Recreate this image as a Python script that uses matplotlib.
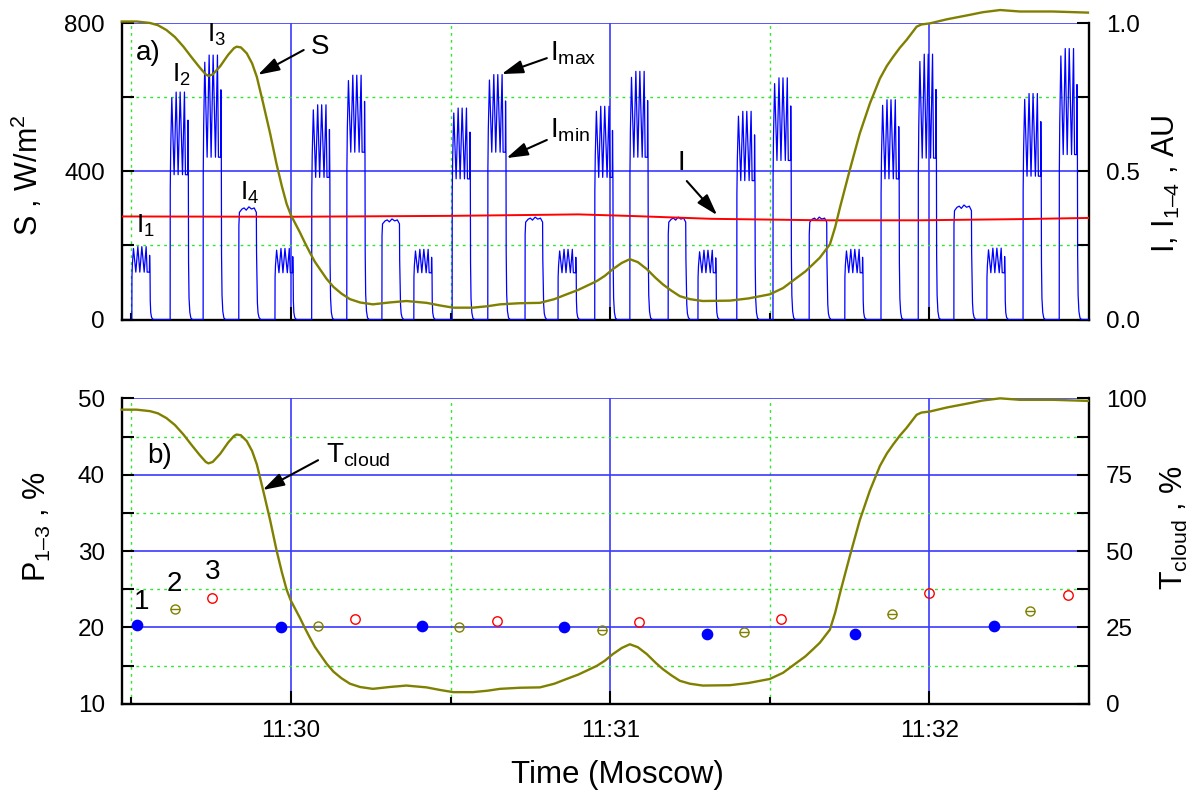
import numpy as np
import matplotlib
matplotlib.use('Agg')
import matplotlib.pyplot as plt
from matplotlib.ticker import FixedLocator, FixedFormatter

plt.rcParams['font.family'] = ['Liberation Sans', 'DejaVu Sans']
plt.rcParams['mathtext.fontset'] = 'custom'
plt.rcParams['mathtext.rm'] = 'Liberation Sans'
plt.rcParams['mathtext.it'] = 'Liberation Sans:italic'
plt.rcParams['mathtext.default'] = 'regular'

# time axis: seconds after 11:29:00 (Moscow)
# solar irradiance S, W/m^2
s_t = [28.2, 31.0, 33.5, 35.0, 36.6, 38.2, 39.8, 41.4, 42.9, 44.0, 44.5, 45.3, 46.7,
       48.2, 49.3, 49.8, 50.6, 51.7, 52.7, 53.6, 54.8, 56.1, 57.3, 58.3, 59.2, 60.0,
       61.7, 62.6, 63.6, 64.5, 65.5, 66.7, 68.0, 69.5, 71.1, 73.0, 75.4, 78.5, 81.7,
       85.5, 88.0, 90.5, 94.2, 97.0, 99.3, 103.0, 106.8, 109.5, 111.8, 114.0, 116.2,
       117.5, 119.0, 120.5, 122.2, 123.7, 125.2, 126.9, 128.5, 129.9, 131.5, 133.1,
       135.0, 137.4, 142.5, 146.0, 150.0, 152.5, 155.1, 156.7, 158.1, 159.4, 161.3,
       162.3, 163.2, 165.0, 166.9, 168.8, 170.7, 172.0, 173.2, 174.5, 175.7, 177.6,
       178.5, 180.1, 183.3, 187.6, 190.0, 193.3, 197.0, 203.2, 209.8]
s_val = [805, 805, 801, 795, 782, 763, 737, 707, 680, 662, 658, 662, 684,
         715, 733, 737, 735, 719, 692, 655, 583, 502, 420, 360, 312, 282,
         235, 208, 180, 156, 135, 110, 88, 70, 55, 46, 41, 46, 50,
         45, 38, 32, 32, 36, 41, 44, 45, 55, 68, 80, 95,
         104, 118, 136, 153, 163, 155, 136, 113, 95, 78, 63,
         55, 50, 51, 57, 68, 85, 113, 130, 149, 167, 203,
         250, 303, 402, 502, 583, 651, 685, 710, 735, 755, 791,
         797, 800, 811, 823, 830, 836, 832, 832, 829]

# lidar pulses I1..I4: start time, upper (I_max) and lower (I_min) level, AU
pulse_kind = ['I1', 'I2', 'I3', 'I4'] * 6 + ['I1', 'I2', 'I3']
pulse_t0 = [30.1, 37.3, 43.5, 50.2, 57.0, 63.9, 70.5, 77.1, 83.1, 90.3, 97.0, 104.0,
            110.2, 117.1, 123.7, 130.9, 136.5, 143.8, 150.6, 157.4, 164.1, 170.9,
            177.9, 184.6, 190.8, 197.6, 204.4]
pulse_hi = [0.246, 0.768, 0.893, 0.373, 0.240, 0.725, 0.825, 0.333, 0.237, 0.714,
            0.827, 0.339, 0.237, 0.720, 0.838, 0.339, 0.234, 0.703, 0.816, 0.339,
            0.237, 0.742, 0.896, 0.379, 0.241, 0.763, 0.915]
pulse_lo = [0.160, 0.489, 0.548, 0.373, 0.158, 0.480, 0.565, 0.333, 0.158, 0.475,
            0.565, 0.339, 0.158, 0.480, 0.548, 0.339, 0.158, 0.469, 0.537, 0.339,
            0.158, 0.475, 0.545, 0.379, 0.158, 0.484, 0.557]

# reference signal I, AU
i_t = [28.2, 60, 90, 105, 114, 125, 139, 160, 178, 197, 210]
i_val = [0.348, 0.347, 0.350, 0.353, 0.355, 0.349, 0.340, 0.335, 0.335, 0.339, 0.343]

# polarization P1..P3, %
p1_t = [31.1, 58.1, 84.7, 111.4, 138.2, 166.1, 192.1]
p1 = [20.35, 20.0, 20.13, 20.0, 19.13, 19.13, 20.17]
p2_t = [38.2, 65.1, 91.6, 118.4, 145.2, 173.0, 199.0]
p2 = [22.4, 20.2, 20.0, 19.65, 19.35, 21.8, 22.2]
p3_t = [45.1, 72.0, 98.7, 125.4, 152.2, 180.0, 206.0]
p3 = [23.8, 21.1, 20.9, 20.65, 21.1, 24.5, 24.3]

xtick_t = [60, 120, 180]
xtick_lab = ['11:30', '11:31', '11:32']

# shape of one modulated pulse (comb) and of the flat I4 pulse
comb_dt = [0.00, 0.02, 0.10, 0.31, 0.75, 1.13, 1.50, 1.88, 2.32, 2.69, 2.88, 3.30,
           3.34, 3.42, 3.46, 3.55, 3.70, 3.90, 4.20]
comb_env = [0, 0.9, 1, 1, 1, 1, 1, 1, 1, 1, 1, 1, 1, 1, 0.4, 0.15, 0.05, 0.01, 0]
comb_osc = [0, 0, 0.3, 0.93, 0, 1, 0, 1, 0, 1, 0, 0, 0.66, 0, 0, 0, 0, 0, 0]
flat_dt = [0.00, 0.02, 0.12, 0.6, 1.0, 1.4, 1.9, 2.4, 2.9, 3.2, 3.30, 3.34, 3.42,
           3.50, 3.62, 3.80, 4.10]
flat_f = [0, 0.85, 0.97, 1.0, 1.01, 0.99, 1.02, 1.0, 1.01, 0.98, 0.97, 0.6, 0.35,
          0.15, 0.06, 0.02, 0]

tt = [28.2]
vv = [0.0]
for kind, t0, hi, lo in zip(pulse_kind, pulse_t0, pulse_hi, pulse_lo):
    if kind == 'I4':
        tt += [t0 + d for d in flat_dt]
        vv += [hi * f for f in flat_f]
    else:
        tt += [t0 + d for d in comb_dt]
        vv += [e * (lo + o * (hi - lo)) for e, o in zip(comb_env, comb_osc)]
tt.append(210.0)
vv.append(0.0)

t_cloud = np.array(s_val) / max(s_val) * 100

c_grid = '#3a3aff'
c_minor = '#2ee82e'
c_olive = '#808000'

fig = plt.figure(figsize=(12.04, 7.97), dpi=100)
axI = fig.add_axes([0.1011, 0.5991, 0.8034, 0.3716])
axS = axI.twinx()
bx = fig.add_axes([0.1011, 0.1169, 0.8034, 0.3833])
bx2 = bx.twinx()


def style(ax, ymaj, ymin):
    ax.set_xlim(28.2, 210.0)
    ax.xaxis.set_major_locator(FixedLocator(xtick_t))
    ax.xaxis.set_minor_locator(FixedLocator([30, 90, 150]))
    ax.yaxis.set_major_locator(FixedLocator(ymaj))
    ax.yaxis.set_minor_locator(FixedLocator(ymin))
    ax.grid(which='major', color=c_grid, lw=1.2, ls='-')
    ax.grid(which='minor', color=c_minor, lw=1.0, ls=(0, (2, 3)))
    ax.set_axisbelow(True)
    ax.spines['top'].set_visible(False)
    for s in ['left', 'right', 'bottom']:
        ax.spines[s].set_linewidth(1.7)
    ax.tick_params(axis='both', which='both', direction='in', width=1.5,
                   labelsize=17.5, pad=12)
    ax.tick_params(axis='y', which='both', length=8.5)
    ax.tick_params(axis='x', which='major', length=9.5)
    ax.tick_params(axis='x', which='minor', length=5)


def twin_style(ax, ymaj, ymin):
    for s in ax.spines.values():
        s.set_visible(False)
    ax.yaxis.set_major_locator(FixedLocator(ymaj))
    ax.yaxis.set_minor_locator(FixedLocator(ymin))
    ax.tick_params(axis='y', which='both', direction='in', width=1.5, length=8.5,
                   labelsize=17.5, pad=12)


# ---------------- panel a) ----------------
axI.set_ylim(0, 1)
style(axI, [0, 0.5, 1.0], [0.25, 0.75])
axI.yaxis.tick_right()
axI.yaxis.set_label_position('right')
axI.yaxis.set_major_formatter(FixedFormatter(['0.0', '0.5', '1.0']))
axI.tick_params(labelbottom=False)

axI.plot(tt, vv, color='#0000ff', lw=0.9, zorder=3)
axI.plot(i_t, i_val, color='#ff0000', lw=1.4, zorder=3)

axS.set_ylim(0, 800)
twin_style(axS, [0, 400, 800], [200, 600])
axS.yaxis.tick_left()
axS.yaxis.set_label_position('left')
axS.plot(s_t, s_val, color=c_olive, lw=1.7, clip_on=False)

axS.set_ylabel('S , W/m$^2$', fontsize=22, va='center')
axS.yaxis.set_label_coords(-0.098, 0.488)
axI.set_ylabel('I, I$_{1\u20134}$ , AU', fontsize=22, va='center', rotation=90)
axI.yaxis.set_label_coords(1.080, 0.457)

arrow = dict(arrowstyle='-|>,head_length=0.65,head_width=0.2', color='k', lw=1.5,
             mutation_scale=20, shrinkA=0, shrinkB=0)
axS.text(33.1, 720, 'a)', fontsize=20, ha='center', va='center')
axS.text(30.9, 234, 'I$_1$', fontsize=19, ha='left', va='baseline')
axS.text(37.6, 642, 'I$_2$', fontsize=19, ha='left', va='baseline')
axS.text(44.2, 750, 'I$_3$', fontsize=19, ha='left', va='baseline')
axS.text(50.4, 323, 'I$_4$', fontsize=19, ha='left', va='baseline')
axS.text(65.5, 735, 'S', fontsize=20, ha='center', va='center')
axS.annotate('', xy=(53.8, 661), xytext=(62.4, 728), arrowprops=arrow)
axS.text(108.7, 701, 'I$_{max}$', fontsize=20, ha='left', va='baseline')
axS.annotate('', xy=(99.6, 663), xytext=(108.1, 706), arrowprops=arrow)
axS.text(108.7, 493, 'I$_{min}$', fontsize=20, ha='left', va='baseline')
axS.annotate('', xy=(100.5, 436), xytext=(108.1, 485), arrowprops=arrow)
axS.text(132.6, 404, 'I', fontsize=20, ha='left', va='baseline')
axS.annotate('', xy=(140.1, 282), xytext=(134.4, 374), arrowprops=arrow)

# ---------------- panel b) ----------------
bx.set_ylim(10, 50)
style(bx, [10, 20, 30, 40, 50], [15, 25, 35, 45])
bx.xaxis.set_major_formatter(FixedFormatter(xtick_lab))

bx.plot(p1_t, p1, ls='none', marker='o', ms=7.4, color='#0000ff')
bx.plot(p2_t, p2, ls='none', marker='o', ms=6.5, mfc='none', mec=c_olive, mew=1.0)
bx.plot(p2_t, p2, ls='none', marker='_', ms=6.5, mec=c_olive, mew=1.0)
bx.plot(p3_t, p3, ls='none', marker='o', ms=6.8, mfc='none', mec='#ff0000', mew=1.0)

bx2.set_ylim(0, 100)
twin_style(bx2, [0, 25, 50, 75, 100], [12.5, 37.5, 62.5, 87.5])
bx2.plot(s_t, t_cloud, color=c_olive, lw=1.7, clip_on=False)

bx.set_ylabel('P$_{1\u20133}$ , %', fontsize=22, va='center')
bx.yaxis.set_label_coords(-0.087, 0.58)
bx2.set_ylabel('T$_{cloud}$ , %', fontsize=22, va='center', rotation=90)
bx2.yaxis.set_label_coords(1.088, 0.575)
bx.set_xlabel('Time (Moscow)', fontsize=22.5, va='center')
bx.xaxis.set_label_coords(0.512, -0.232)

bx.text(35.4, 42.45, 'b)', fontsize=20, ha='center', va='center')
bx.text(66.6, 41.66, 'T$_{cloud}$', fontsize=20, ha='left', va='baseline')
bx.annotate('', xy=(54.7, 38.0), xytext=(65.1, 41.9), arrowprops=arrow)
bx.text(32.0, 23.34, '1', fontsize=20, ha='center', va='center')
bx.text(38.0, 25.7, '2', fontsize=20, ha='center', va='center')
bx.text(45.3, 27.3, '3', fontsize=20, ha='center', va='center')

fig.savefig('out.png', dpi=100)
